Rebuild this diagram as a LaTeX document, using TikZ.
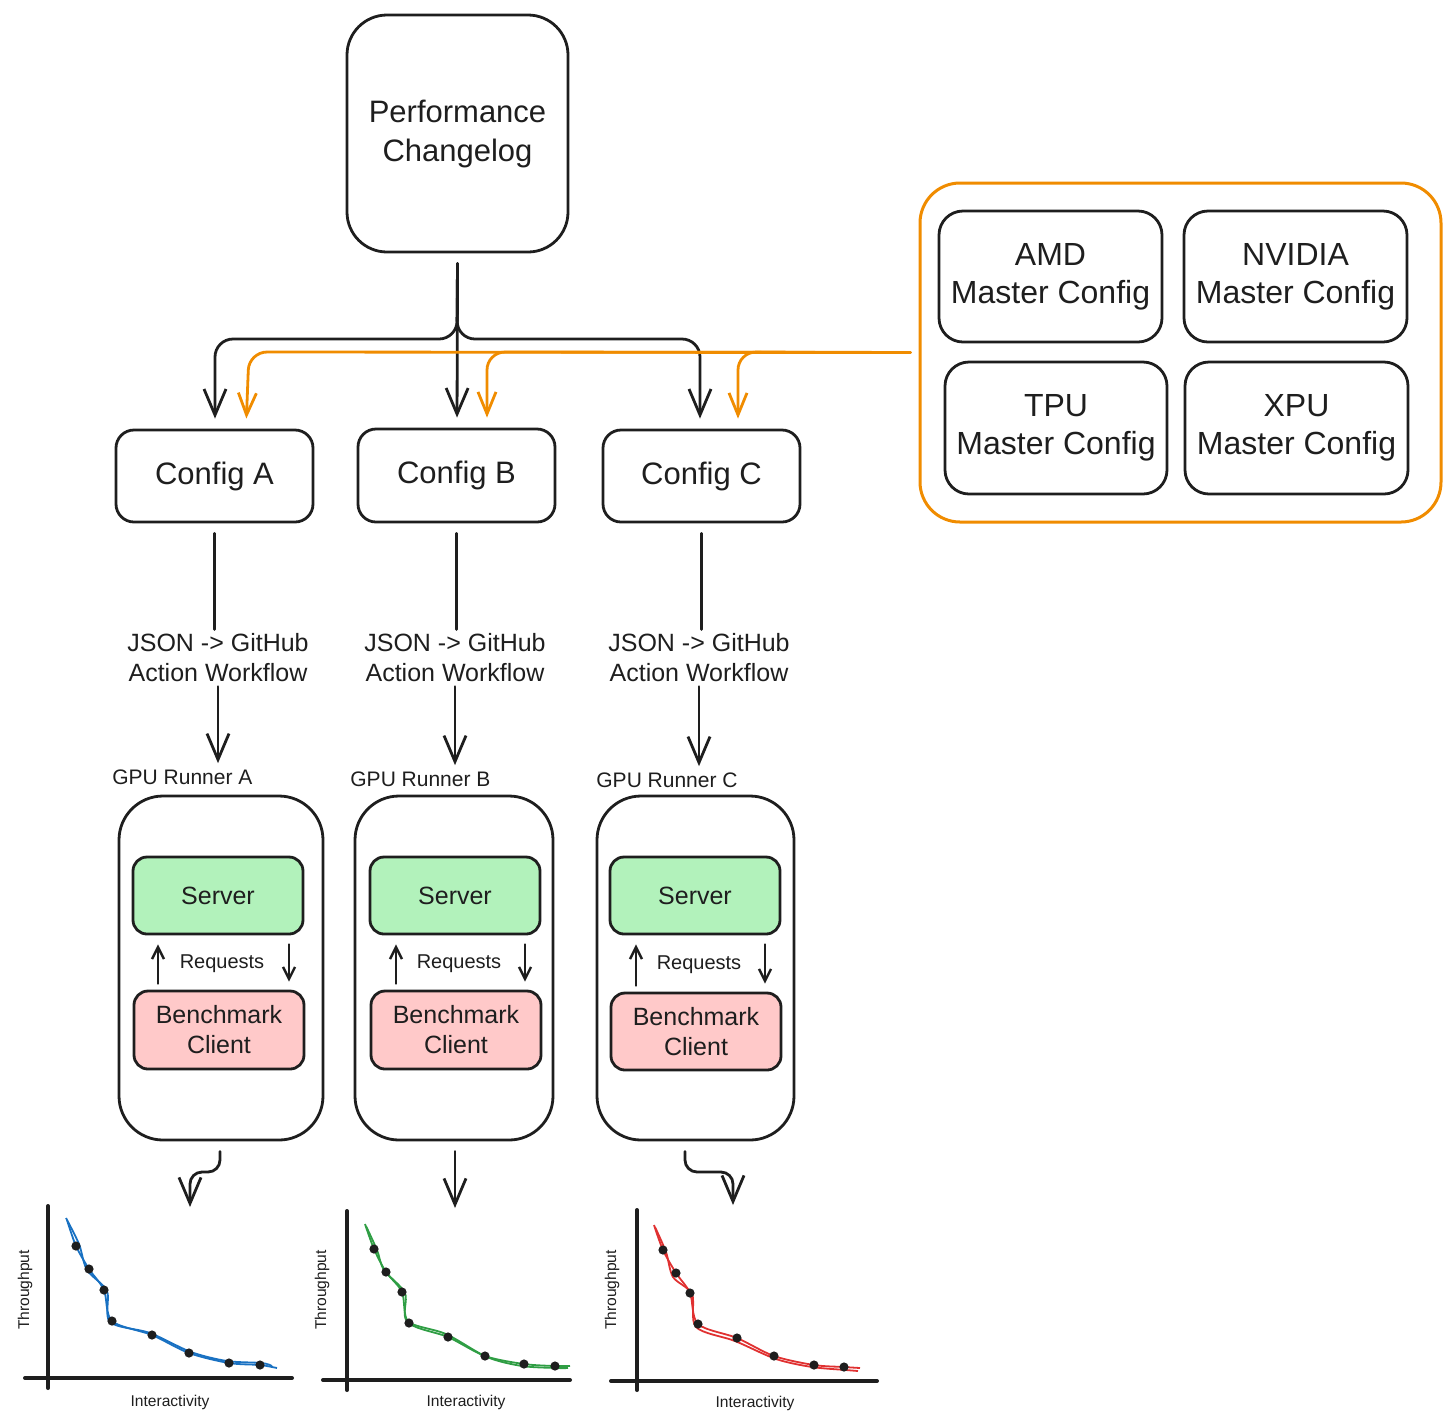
\documentclass[tikz,border=0pt]{standalone}
\usepackage{fontspec}
\setmainfont{Liberation Sans}
\usetikzlibrary{arrows.meta,fit}
\definecolor{exorange}{HTML}{F08C00}
\definecolor{exgreen}{HTML}{B2F2BB}
\definecolor{exred}{HTML}{FFC9C9}
\definecolor{cblue}{HTML}{1971C2}
\definecolor{cgreen}{HTML}{2F9E44}
\definecolor{cred}{HTML}{E03131}
\definecolor{ink}{HTML}{1E1E1E}
\begin{document}
\begin{tikzpicture}[x=0.5pt,y=-0.5pt,
  box/.style={draw=ink, line width=1.4pt, inner sep=0pt},
  lbl/.style={align=center, text=ink, inner sep=0pt},
  bigbox/.style={box, rounded corners=20pt},
  cfgbox/.style={box, rounded corners=9pt},
  mbox/.style={box, rounded corners=12pt},
  runbox/.style={box, rounded corners=22pt},
  srvbox/.style={box, rounded corners=7pt, fill=exgreen},
  clibox/.style={box, rounded corners=7pt, fill=exred},
  bigfont/.style={lbl, font=\fontsize{15.5}{19.5}\selectfont},
  cfgfont/.style={lbl, font=\fontsize{15.5}{19}\selectfont},
  mfont/.style={lbl, font=\fontsize{16}{19}\selectfont},
  srvfont/.style={lbl, font=\fontsize{12.5}{15}\selectfont},
  wftext/.style={align=center, text=ink, inner sep=2pt, font=\fontsize{12.5}{15}\selectfont},
  runlabel/.style={anchor=west, text=ink, inner sep=0pt, font=\fontsize{10.5}{12}\selectfont},
  reqtext/.style={text=ink, inner sep=0pt, font=\fontsize{10}{12}\selectfont},
  axtext/.style={text=ink, inner sep=0pt, font=\fontsize{7.8}{9}\selectfont},
  conn/.style={draw=ink, line width=1.4pt, line cap=round},
  arr/.style={conn, -{Straight Barb[length=13pt,width=11pt,line width=1.4pt]}},
  oarr/.style={draw=exorange, line width=1.4pt, line cap=round, -{Straight Barb[length=11pt,width=9pt,line width=1.4pt]}},
  sarr/.style={draw=ink, line width=1.2pt, line cap=round, -{Straight Barb[length=6pt,width=6pt,line width=1.2pt]}},
  axis/.style={draw=ink, line width=2pt, line cap=round},
  dot/.style={fill=ink},
]
\useasboundingbox (0,0) rectangle (1456,1426);

% ---------- top ----------
\node[bigbox, fit={(347,15) (568,252)}, label={[bigfont]center:Performance\\Changelog}] (pc) {};

\node[box, draw=exorange, line width=1.5pt, rounded corners=20pt, fit={(920,183) (1441,522)}] (cont) {};
\node[mbox, fit={(939,211) (1162,342)}, label={[mfont]center:AMD\\Master Config}] (amd) {};
\node[mbox, fit={(1184,211) (1407,342)}, label={[mfont]center:NVIDIA\\Master Config}] (nv) {};
\node[mbox, fit={(945,362) (1167,494)}, label={[mfont]center:TPU\\Master Config}] (tpu) {};
\node[mbox, fit={(1185,362) (1408,494)}, label={[mfont]center:XPU\\Master Config}] (xpu) {};

% ---------- configs ----------
\node[cfgbox, fit={(116,430) (313,522)}, label={[cfgfont]center:Config A}] (ca) {};
\node[cfgbox, fit={(358,429) (555,522)}, label={[cfgfont]center:Config B}] (cb) {};
\node[cfgbox, fit={(603,430) (800,522)}, label={[cfgfont]center:Config C}] (cc) {};

% black fork
\draw[arr, rounded corners=9pt, shorten >=5pt] ([yshift=-5pt]pc.south) -- (457,339) -- (215,339) -- (ca.north -| 215,0);
\draw[arr, rounded corners=9pt, shorten >=5pt] ([yshift=-5pt]pc.south) -- (457,339) -- (700,339) -- (cc.north -| 700,0);
\draw[arr, shorten >=5pt] ([yshift=-5pt]pc.south) -- (cb.north -| 457,0);

% orange feeds
\draw[oarr, rounded corners=9pt, shorten >=5pt] ([xshift=-4pt]cont.west) -- (249,352) -- (ca.north -| 246,0);
\draw[oarr, rounded corners=9pt, shorten >=5pt] ([xshift=-4pt]cont.west) -- (487,352) -- (cb.north -| 487,0);
\draw[oarr, rounded corners=9pt, shorten >=5pt] ([xshift=-4pt]cont.west) -- (738,352) -- (cc.north -| 738,0);

% ---------- workflow texts ----------
\node[wftext] (ja) at (218,658) {JSON -> GitHub\\Action Workflow};
\node[wftext] (jb) at (455,658) {JSON -> GitHub\\Action Workflow};
\node[wftext] (jc) at (699,658) {JSON -> GitHub\\Action Workflow};

\draw[conn, shorten <=5pt] (ca.south) -- (ja.north -| ca.south);
\draw[conn, shorten <=5pt] (cb.south) -- (jb.north -| cb.south);
\draw[conn, shorten <=5pt] (cc.south) -- (jc.north -| cc.south);

% ---------- runners ----------
\node[runlabel] (gla) at (112,777) {GPU Runner A};
\node[runlabel] (glb) at (350,779) {GPU Runner B};
\node[runlabel] (glc) at (596,780) {GPU Runner C};

\draw[arr, shorten >=3pt] (ja.south) -- (ja.south |- gla.north);
\draw[arr, shorten >=3pt] (jb.south) -- (jb.south |- glb.north);
\draw[arr, shorten >=3pt] (jc.south) -- (jc.south |- glc.north);

\node[runbox, fit={(119,796) (323,1140)}] (ra) {};
\node[runbox, fit={(355,796) (553,1140)}] (rb) {};
\node[runbox, fit={(597,796) (794,1140)}] (rc) {};

\node[srvbox, fit={(133,857) (303,934)}, label={[srvfont]center:Server}] (sa) {};
\node[srvbox, fit={(370,857) (540,934)}, label={[srvfont]center:Server}] (sb) {};
\node[srvbox, fit={(610,857) (780,934)}, label={[srvfont]center:Server}] (sc) {};

\node[clibox, fit={(134,991) (304,1069)}, label={[srvfont]center:Benchmark\\Client}] (bca) {};
\node[clibox, fit={(371,991) (541,1069)}, label={[srvfont]center:Benchmark\\Client}] (bcb) {};
\node[clibox, fit={(611,993) (781,1070)}, label={[srvfont]center:Benchmark\\Client}] (bcc) {};

\node[reqtext] (qa) at (222,964) {Requests};
\node[reqtext] (qb) at (459,964) {Requests};
\node[reqtext] (qc) at (699,965) {Requests};

\draw[sarr, shorten <=3pt, shorten >=4.5pt] (bca.north -| 158,0) -- (sa.south -| 158,0);
\draw[sarr, shorten <=4.5pt, shorten >=4pt] (sa.south -| 289,0) -- (bca.north -| 289,0);
\draw[sarr, shorten <=3pt, shorten >=4.5pt] (bcb.north -| 396,0) -- (sb.south -| 396,0);
\draw[sarr, shorten <=4.5pt, shorten >=4pt] (sb.south -| 525,0) -- (bcb.north -| 525,0);
\draw[sarr, shorten <=3pt, shorten >=4.5pt] (bcc.north -| 636,0) -- (sc.south -| 636,0);
\draw[sarr, shorten <=4.5pt, shorten >=4pt] (sc.south -| 765,0) -- (bcc.north -| 765,0);

% ---------- outputs ----------
\coordinate (ga) at (190,1207);
\coordinate (gb) at (455,1208);
\coordinate (gc) at (733,1205);
\draw[arr, rounded corners=6pt, shorten <=5pt] (ra.south -| 220,0) -- (220,1172) -- (190,1172) -- (ga);
\draw[arr, shorten <=5pt] (rb.south -| 455,0) -- (gb);
\draw[arr, rounded corners=6pt, shorten <=5pt] (rc.south -| 685,0) -- (685,1172) -- (733,1172) -- (gc);

% ---------- charts ----------
% A
\draw[axis] (48,1206) -- (48,1388);
\draw[axis] (25,1378) -- (292,1378);
\node[axtext, rotate=90] (ta) at (25,1290) {Throughput};
\node[axtext] (ia) at (170,1402) {Interactivity};
\draw[cblue, line width=0.9pt] plot[smooth, tension=0.5] coordinates {(67,1220) (76,1246) (89,1269) (104,1290) (112,1321) (152,1335) (189,1353) (229,1363) (260,1365) (277,1368)};
\draw[cblue, line width=0.9pt] plot[smooth, tension=0.5] coordinates {(66,1218) (79,1244) (87,1270) (107,1291) (110,1322) (150,1333) (191,1352) (227,1361) (262,1363) (272,1366)};
\foreach \p in {(76,1246),(89,1269),(104,1290),(112,1321),(152,1335),(189,1353),(229,1363),(260,1365)} \fill[dot] \p circle[radius=2.3pt];
% B
\draw[axis] (347,1211) -- (347,1390);
\draw[axis] (323,1380) -- (570,1380);
\node[axtext, rotate=90] (tb) at (322,1290) {Throughput};
\node[axtext] (ib) at (466,1402) {Interactivity};
\draw[cgreen, line width=0.9pt] plot[smooth, tension=0.5] coordinates {(365,1224) (374,1249) (386,1272) (402,1292) (409,1323) (448,1337) (485,1356) (524,1364) (555,1366) (570,1366)};
\draw[cgreen, line width=0.9pt] plot[smooth, tension=0.5] coordinates {(366,1226) (377,1250) (384,1270) (405,1293) (407,1321) (446,1334) (487,1357) (522,1366) (557,1368) (568,1368)};
\foreach \p in {(374,1249),(386,1272),(402,1292),(409,1323),(448,1337),(485,1356),(524,1364),(555,1366)} \fill[dot] \p circle[radius=2.3pt];
% C
\draw[axis] (637,1210) -- (637,1390);
\draw[axis] (611,1381) -- (877,1381);
\node[axtext, rotate=90] (tc) at (612,1290) {Throughput};
\node[axtext] (ic) at (755,1403) {Interactivity};
\draw[cred, line width=0.9pt] plot[smooth, tension=0.5] coordinates {(654,1225) (663,1250) (676,1273) (690,1293) (698,1324) (737,1338) (774,1356) (814,1365) (844,1367) (860,1368)};
\draw[cred, line width=0.9pt] plot[smooth, tension=0.5] coordinates {(655,1227) (666,1252) (673,1277) (692,1294) (696,1327) (735,1341) (776,1359) (812,1367) (846,1370) (858,1371)};
\foreach \p in {(663,1250),(676,1273),(690,1293),(698,1324),(737,1338),(774,1356),(814,1365),(844,1367)} \fill[dot] \p circle[radius=2.3pt];
\end{tikzpicture}
\end{document}
